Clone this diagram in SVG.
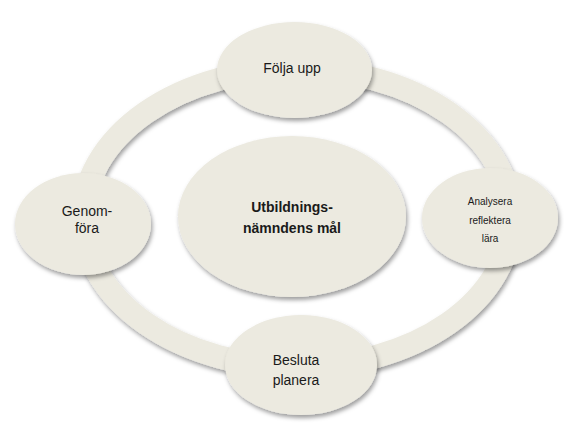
<svg xmlns="http://www.w3.org/2000/svg" width="564" height="423" viewBox="0 0 564 423">
  <defs>
    <filter id="sh" x="-20%" y="-20%" width="140%" height="150%">
      <feDropShadow dx="1.5" dy="3" stdDeviation="2.2" flood-color="#000" flood-opacity="0.38"/>
    </filter>
    <style>
      .shape { fill: #ECEAE0; filter: url(#sh); }
      .ring { fill: none; stroke: #ECEAE0; stroke-width: 23; filter: url(#sh); }
      .t { font-family: "Liberation Sans", Arial, sans-serif; font-size: 14px; fill: #1a1a1a; text-anchor: middle; }
      .s { font-size: 10px; }
      .b { font-weight: bold; }
    </style>
  </defs>
  <rect width="564" height="423" fill="#ffffff"/>
  <g id="connectors">
    <ellipse class="ring" cx="297" cy="218" rx="214" ry="149"/>
  </g>
  <g id="node-center">
    <ellipse class="shape" cx="292" cy="216.5" rx="114" ry="80.5"/>
    <text class="t b" x="292" y="212">Utbildnings-</text>
    <text class="t b" x="292" y="233">nämndens mål</text>
  </g>
  <g id="node-folja">
    <ellipse class="shape" cx="294.5" cy="70" rx="77.5" ry="48"/>
    <text class="t" x="292" y="73">Följa upp</text>
  </g>
  <g id="node-analysera">
    <ellipse class="shape" cx="490" cy="218" rx="68" ry="50"/>
    <text class="t s" x="490" y="205">Analysera</text>
    <text class="t s" x="490" y="223.5">reflektera</text>
    <text class="t s" x="490" y="242">lära</text>
  </g>
  <g id="node-genomfora">
    <ellipse class="shape" cx="83" cy="224" rx="68" ry="51"/>
    <text class="t" x="87" y="216">Genom-</text>
    <text class="t" x="87" y="233">föra</text>
  </g>
  <g id="node-besluta">
    <ellipse class="shape" cx="301" cy="365" rx="76" ry="50"/>
    <text class="t" x="296" y="365">Besluta</text>
    <text class="t" x="296" y="385">planera</text>
  </g>
</svg>
